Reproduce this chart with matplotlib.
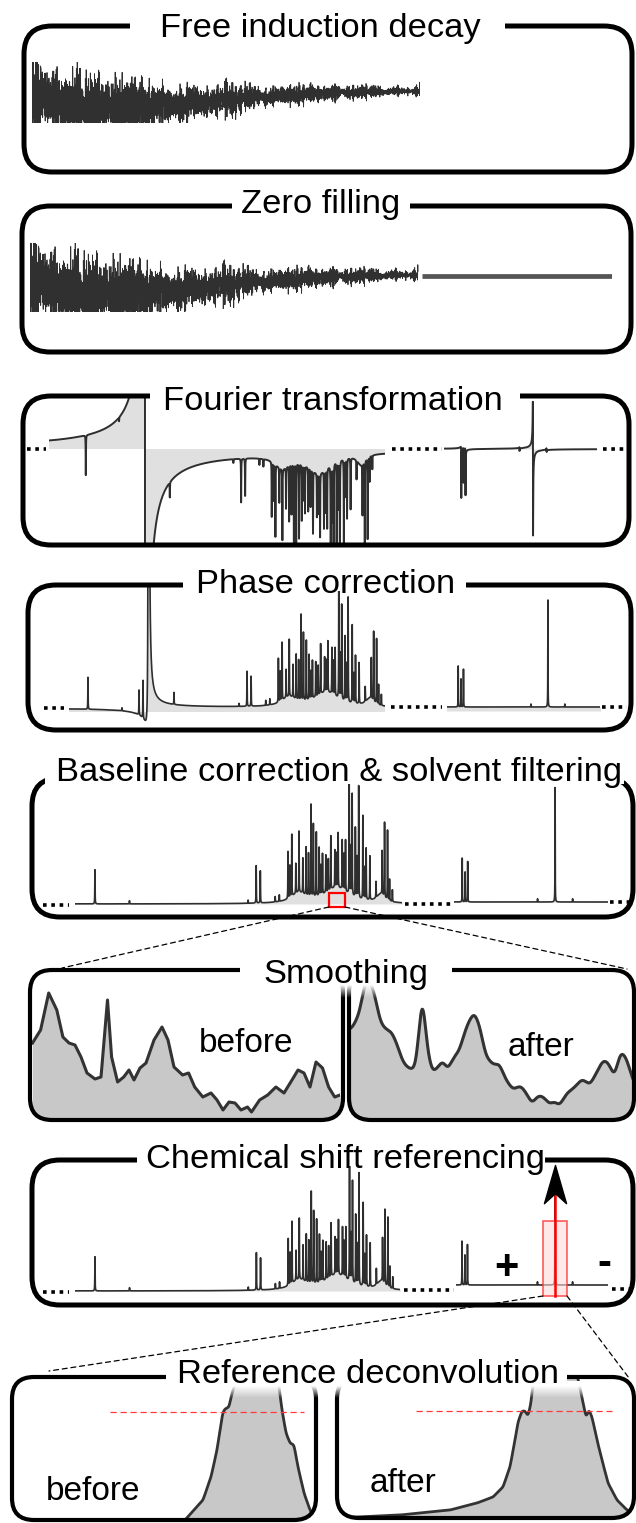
import numpy as np
import matplotlib
matplotlib.use("Agg")
import matplotlib.pyplot as plt
from matplotlib.patches import FancyBboxPatch, Rectangle, ConnectionPatch
from matplotlib.path import Path

plt.rcParams["font.family"] = ["Liberation Sans", "DejaVu Sans"]

W, H = 636, 1523

# ---------------- data ----------------
# 1H lines of the low-field block (ppm, height in a.u.)
PEAK_PPM = [5.338, 5.047, 4.902, 4.868, 4.603, 4.047, 3.979, 3.944,
            3.819, 3.784, 3.711, 3.679, 3.645, 3.618, 3.586, 3.559, 3.517, 3.497,
            3.472, 3.448, 3.420, 3.392, 3.350, 3.316, 3.288, 3.254, 3.226, 3.195,
            3.170, 3.143, 3.115, 3.080, 3.052, 3.021, 2.969, 2.917, 2.897, 2.872,
            2.831]
PEAK_HEIGHT = [32, 3, 25, 38, 12, 3, 35, 30,
               5, 6, 44, 58, 28, 57, 33, 45, 86, 68,
               60, 45, 38, 35, 50, 35, 51, 46, 48, 109,
               95, 65, 105, 78, 48, 41, 15, 41, 70, 65,
               11]
# smaller lines between the main ones
MINOR_PPM = [3.695, 3.538, 3.434, 3.371, 3.302, 3.240, 3.182, 3.129, 3.066, 2.855]
MINOR_HEIGHT = [30, 40, 28, 30, 32, 34, 45, 38, 30, 20]
LINE_FWHM = 0.0025

# unresolved background under the crowded region
BROAD_PPM = [3.62, 3.30, 2.93]
BROAD_HEIGHT = [9, 15, 8]
BROAD_FWHM = [0.15, 0.25, 0.08]

WATER_PPM = 4.82
WATER_HEIGHT = 3400
WATER_FWHM = 0.0034
SOLVENT_REGION = (4.55, 4.95)

# high-field block, reference compound at 0 ppm
SEG2_PPM = [1.378, 1.335, 1.297, 0.26, 0.0, -0.26]
SEG2_HEIGHT = [41, 28, 38, 3, 107, 3]
SEG2_FWHM = 0.0035
REF_PPM = 0.0
REF_WINDOW = 0.178

# phases in degrees
FT_PHASE_SOLUTE = 180
FT_PHASE_WATER = 265
FT_PHASE_SEG2 = 253
FT_PHASE_SEG2_SLOPE = -39.5
PC_PHASE_WATER = 7

# acquisition
CARRIER_PPM = 4.822
CYCLES_PER_PPM = 288
FID_POINTS = 12000
FID_GAIN = 34.0
WATER_FID_SCALE = 0.1
ZERO_FILL_LENGTH = 1.5

# zoomed window for smoothing (ppm limits) and its raw points
ZOOM_PPM = (3.366, 3.231)
SMOOTH_CHANNEL = [2.5, 10.6, 18.7, 26.8, 32.9, 39, 45, 51, 57, 65, 71, 77.5,
                  81.6, 87.6, 93.7, 99, 104, 110, 116, 124, 132, 138, 144,
                  152.6, 158.6, 164.7, 172.8, 181, 187, 193, 199, 205, 211,
                  217.5, 221.5, 229.6, 237.7, 245.9, 254, 262, 268, 274, 280,
                  286, 292.5, 298.6, 304.7, 310]
SMOOTH_BEFORE = [77, 90, 127, 110, 83, 77, 75, 63, 47, 41, 43, 120,
                 63, 38, 43, 50, 40, 52, 57, 80, 93, 80, 53,
                 45, 47, 33, 23, 27, 20, 10, 18, 17, 10,
                 13, 8, 20, 25, 33, 27, 40, 50, 47, 33,
                 58, 52, 33, 23, 25]
SMOOTH_SIGMA = 2.5

# reference line before / after deconvolution (offset, intensity)
REF_BEFORE_OFFSET = [-245, -100, -72, -54, -46, -40, -36, -34, -32, -28, -25,
                     -22, -17, 0, 17, 22, 25, 29, 33, 37, 41, 47, 53, 57, 63]
REF_BEFORE = [0, 0, 0, 20, 43, 70, 97, 108, 111, 113, 127,
              135, 180, 220, 180, 133, 110, 87, 77, 75, 53, 27, 10, 3, 0]
REF_AFTER_OFFSET = [-219, -156, -106, -79, -63, -53, -46, -41, -38, -34, -31,
                    -28, -25, -23, -11, 0, 11, 23, 27, 30, 33, 36, 41, 46,
                    52, 61, 71, 77, 84]
REF_AFTER = [2, 5, 10, 17, 23, 33, 53, 80, 98, 109, 109,
             104, 117, 137, 190, 220, 190, 137, 117, 103, 110, 103, 80, 60,
             37, 20, 10, 7, 5]
REF_LEVEL_BEFORE = (-147, 47, 108)
REF_LEVEL_AFTER = (-140, 56, 109)

# ---------------- helpers ----------------
LINE = "#2e2e2e"
LIGHT = "#e0e0e0"
MID = "#c8c8c8"

fig = plt.figure(figsize=(W / 100, H / 100), dpi=100)


def px_axes(x0, x1, y0, y1):
    ax = fig.add_axes([x0 / W, 1 - y1 / H, (x1 - x0) / W, (y1 - y0) / H])
    ax.set_axis_off()
    return ax


def lines(grid, ppm, height, fwhm, phase_deg):
    ppm = np.asarray(ppm, float)
    height = np.asarray(height, float)
    fwhm = np.broadcast_to(np.asarray(fwhm, float), ppm.shape)
    phase = np.deg2rad(np.broadcast_to(np.asarray(phase_deg, float), ppm.shape))
    out = np.zeros_like(grid)
    for c, h, w, p in zip(ppm, height, fwhm, phase):
        u = (c - grid) / (w / 2)
        out += h * (np.cos(p) + u * np.sin(p)) / (1 + u * u)
    return out


grid1 = np.linspace(5.8, 2.6, 20000)
grid2 = np.linspace(1.8, -1.3, 10000)
pk_ppm = np.array(PEAK_PPM + MINOR_PPM)
pk_h = np.array(PEAK_HEIGHT + MINOR_HEIGHT, float)
s2_ppm = np.array(SEG2_PPM)


def seg1_spectrum(kind):
    if kind == "ft":
        ph, wph, keep = FT_PHASE_SOLUTE, FT_PHASE_WATER, np.ones(len(pk_ppm), bool)
    else:
        ph, wph = 0, PC_PHASE_WATER
        keep = np.ones(len(pk_ppm), bool)
        if kind == "clean":
            keep = ~((pk_ppm >= SOLVENT_REGION[0]) & (pk_ppm <= SOLVENT_REGION[1]))
    s = lines(grid1, pk_ppm[keep], pk_h[keep], LINE_FWHM, ph)
    s += lines(grid1, BROAD_PPM, BROAD_HEIGHT, BROAD_FWHM, ph)
    if kind != "clean":
        s += lines(grid1, [WATER_PPM], [WATER_HEIGHT], WATER_FWHM, wph)
    return s


def seg2_spectrum(kind):
    if kind == "ft":
        ph = FT_PHASE_SEG2 + FT_PHASE_SEG2_SLOPE * s2_ppm
    else:
        ph = 0
    return lines(grid2, SEG2_PPM, SEG2_HEIGHT, SEG2_FWHM, ph)


# FID built from the same line list (broad background decays within the dead time)
t = np.linspace(0, 1, FID_POINTS)


def fid_part(ppm, h, fwhm, phase_deg, scale=1.0):
    f = (ppm - CARRIER_PPM) * CYCLES_PER_PPM
    T = 1 / (np.pi * fwhm * CYCLES_PER_PPM)
    return h * fwhm * scale * np.cos(2 * np.pi * f * t + np.deg2rad(phase_deg)) * np.exp(-t / T)


fid = np.zeros_like(t)
for p, h in zip(pk_ppm, pk_h):
    fid += fid_part(p, h, LINE_FWHM, FT_PHASE_SOLUTE)
for p, h in zip(SEG2_PPM, SEG2_HEIGHT):
    fid += fid_part(p, h, SEG2_FWHM, FT_PHASE_SEG2 + FT_PHASE_SEG2_SLOPE * p)
fid += fid_part(WATER_PPM, WATER_HEIGHT, WATER_FWHM, FT_PHASE_WATER, WATER_FID_SCALE)
fid *= FID_GAIN

# ---------------- FID panels ----------------
ax = px_axes(32, 420, 62, 123)
ax.set_xlim(0, 1)
ax.set_ylim(-31, 30)
ax.plot(t, fid, color="#303030", lw=0.6)

ax = px_axes(30, 612, 243, 312)
ax.set_xlim(0, ZERO_FILL_LENGTH)
ax.set_ylim(-36, 33)
ax.plot(t, fid * 1.15, color="#303030", lw=0.6)
t_zf = np.linspace(1.01, ZERO_FILL_LENGTH, 200)
ax.plot(t_zf, np.zeros_like(t_zf), color="#555555", lw=3.4, solid_capstyle="butt")

# ---------------- spectrum panels ----------------
panels = [
    dict(kind="ft", seg1=(49, 385, 5.66, 2.72), seg2=(444, 597, 1.71, -1.23),
         top=396, bottom=545, base1=449, base2=449, gain=1.25, lw=1.4, floor=0),
    dict(kind="pc", seg1=(69, 385, 5.5, 2.8), seg2=(447, 600, 1.55, -0.8),
         top=585, bottom=730, base1=708, base2=707, gain=1.0, lw=1.2, floor=-4),
    dict(kind="clean", seg1=(75, 402, 5.506, 2.75), seg2=(454, 608, 1.50, -0.785),
         top=778, bottom=917, base1=904, base2=902, gain=1.07, lw=1.2, floor=0),
    dict(kind="clean", seg1=(75, 400, 5.506, 2.77), seg2=(456, 608, 1.467, -0.785),
         top=1160, bottom=1305, base1=1291, base2=1285, gain=1.07, lw=1.2, floor=0),
]
seg_axes = []
for pn in panels:
    pair = []
    for key, grid, spec, base in (("seg1", grid1, seg1_spectrum, pn["base1"]),
                                  ("seg2", grid2, seg2_spectrum, pn["base2"])):
        x0, x1, pl, pr = pn[key]
        a = px_axes(x0, x1, pn["top"], pn["bottom"])
        a.set_xlim(pl, pr)
        a.set_ylim(-(pn["bottom"] - base), base - pn["top"])
        y = spec(pn["kind"]) * pn["gain"]
        a.fill_between(grid, y, pn["floor"], color=LIGHT, lw=0)
        a.plot(grid, y, color=LINE, lw=pn["lw"])
        pair.append(a)
    seg_axes.append(pair)

# ---------------- overlay ----------------
ov = fig.add_axes([0, 0, 1, 1])
ov.set_axis_off()
ov.set_zorder(10)


def box(x0, y0, x1, y1, r=28, lw=3.6):
    p = FancyBboxPatch((x0, y0), x1 - x0, y1 - y0,
                       boxstyle=f"round,pad=0,rounding_size={r}",
                       fill=False, ec="black", lw=lw, zorder=2)
    ov.add_patch(p)
    return p


for b in [(24, 26, 632, 172), (22, 206, 631, 352), (23, 396, 629, 545),
          (28, 585, 631, 730), (32, 778, 633, 917), (32, 1160, 633, 1305)]:
    box(*b)
boxL6 = box(30, 970, 343, 1120, r=22, lw=3.0)
boxR6 = box(349, 970, 634, 1120, r=22, lw=3.0)
boxL8 = box(12, 1377, 316, 1520, r=22, lw=3.0)
boxR8 = box(337, 1377, 634, 1518, r=22, lw=3.0)

# title gaps in the top borders
for x0, x1, y in [(130, 505, 26), (232, 410, 206), (150, 520, 396), (183, 466, 585),
                  (45, 624, 778), (240, 452, 970), (137, 545, 1160), (166, 567, 1377)]:
    ov.add_patch(Rectangle((x0, y - 6), x1 - x0, 12, fc="white", ec="none", zorder=3))


def fade(x0, x1, y_top, y_solid, y_end):
    ys = np.linspace(y_top, y_end, 80)
    img = np.ones((80, 1, 4))
    img[:, 0, 3] = np.clip((y_end - ys) / (y_end - y_solid), 0, 1)
    ov.imshow(img, extent=(x0, x1, y_end, y_top), aspect="auto",
              interpolation="bilinear", zorder=3)


titles = [("Free induction decay", 320, 37), ("Zero filling", 321, 213),
          ("Fourier transformation", 333, 410), ("Phase correction", 326, 593),
          ("Baseline correction & solvent filtering", 339, 781),
          ("Smoothing", 346, 983), ("Chemical shift referencing", 346, 1168),
          ("Reference deconvolution", 368, 1383)]
for txt, x, y in titles:
    ov.text(x, y, txt, fontsize=24.8, ha="center", va="baseline", zorder=5)

# dotted gaps between spectral blocks
for x0, x1, y in [(27, 46, 449), (392, 442, 449), (603, 627, 449),
                  (44, 64, 708), (391, 442, 707), (602, 627, 707),
                  (43, 69, 905), (405, 452, 904), (610, 634, 902),
                  (43, 69, 1292), (404, 454, 1290), (612, 636, 1289)]:
    ov.plot([x0, x1], [y, y], color="black", lw=2.6, ls=(0, (1, 1.3)), zorder=4)

# ---------------- smoothing ----------------
ch = np.array(SMOOTH_CHANNEL, float)
before = np.array(SMOOTH_BEFORE, float)
fine = np.arange(0, 310.25, 0.25)
b_fine = np.interp(fine, ch, before)
k = np.arange(-40, 41) * 0.25
kern = np.exp(-0.5 * (k / SMOOTH_SIGMA) ** 2)
kern /= kern.sum()
padded = np.concatenate([np.full(40, b_fine[0]), b_fine, np.full(40, b_fine[-1])])
after = np.convolve(padded, kern, mode="same")[40:-40]

a6l = px_axes(30, 340, 970, 1120)
a6l.set_xlim(0, 310)
a6l.set_ylim(0, 150)
f = a6l.fill_between(ch, before, 0, color=MID, lw=0)
f.set_clip_path(boxL6)
ln, = a6l.plot(ch, before, color="#333333", lw=2.2)
ln.set_clip_path(boxL6)

a6r = px_axes(349, 643, 970, 1120)
a6r.set_xlim(0, 310)
a6r.set_ylim(-4, 130)
f = a6r.fill_between(fine, after, -4, color=MID, lw=0)
f.set_clip_path(boxR6)
ln, = a6r.plot(fine, after, color="#333333", lw=2.2)
ln.set_clip_path(boxR6)

ov.text(246, 1043, "before", fontsize=24, ha="center", va="center", zorder=5)
ov.text(541, 1047, "after", fontsize=24, ha="center", va="center", zorder=5)
fade(240, 452, 974, 985, 998)

# ---------------- reference deconvolution ----------------
for x0, x1, off, val, xl, lvl, bx in [
        (12, 316, REF_BEFORE_OFFSET, REF_BEFORE, (-245, 59), REF_LEVEL_BEFORE, boxL8),
        (337, 634, REF_AFTER_OFFSET, REF_AFTER, (-219, 78), REF_LEVEL_AFTER, boxR8)]:
    a = px_axes(x0, x1, 1377, 1520)
    a.set_xlim(*xl)
    a.set_ylim(0, 143)
    xf = np.arange(xl[0], xl[1] + 0.25, 0.25)
    yf = np.interp(xf, off, val)
    kk = np.arange(-8, 9) * 0.25
    kr = np.exp(-0.5 * (kk / 0.8) ** 2)
    kr /= kr.sum()
    yf = np.convolve(np.concatenate([np.full(8, yf[0]), yf, np.full(8, yf[-1])]), kr, "same")[8:-8]
    f = a.fill_between(xf, yf, 0, color=MID, lw=0)
    f.set_clip_path(bx)
    ln, = a.plot(xf, yf, color="#333333", lw=2.0)
    ln.set_clip_path(bx)
    a.plot([lvl[0], lvl[1]], [lvl[2], lvl[2]], color="#ff3b3b", lw=0.9, ls=(0, (5, 3)))

ov.text(93, 1492, "before", fontsize=24, ha="center", va="center", zorder=5)
ov.text(403, 1484, "after", fontsize=24, ha="center", va="center", zorder=5)
fade(166, 592, 1381, 1386, 1398)

# ---------------- zoom markers and connectors ----------------
p5 = seg_axes[2][0]
p5.add_patch(Rectangle((ZOOM_PPM[1], -3), ZOOM_PPM[0] - ZOOM_PPM[1], 14, fill=False,
                       ec="red", lw=1.6, clip_on=False, zorder=5))
for xa, xb in [((ZOOM_PPM[0], -3), (62, 968)), ((ZOOM_PPM[1], -3), (627, 969))]:
    con = ConnectionPatch(xyA=xa, coordsA=p5.transData, xyB=xb, coordsB=ov.transData,
                          color="black", lw=0.9, ls=(0, (4, 3)))
    fig.add_artist(con)

p7 = seg_axes[3][1]
p7.add_patch(Rectangle((REF_PPM - REF_WINDOW, -11), 2 * REF_WINDOW, 75, fc=(1, 0.85, 0.85, 0.6),
                       ec=(1, 0.2, 0.2, 0.8), lw=1.2, clip_on=False, zorder=5))
p7.plot([REF_PPM, REF_PPM], [-11, 92], color="red", lw=1.8, clip_on=False, zorder=6)
head = Path([(0, 0), (0.55, -1.9), (0, -1.4), (-0.55, -1.9), (0, 0)],
            [Path.MOVETO, Path.LINETO, Path.LINETO, Path.LINETO, Path.CLOSEPOLY])
p7.plot([REF_PPM], [120], marker=head, markersize=55, color="black", clip_on=False, zorder=7)
for xa, xb in [((REF_PPM + REF_WINDOW, -11), (49, 1371)), ((REF_PPM - REF_WINDOW, -11), (629, 1378))]:
    con = ConnectionPatch(xyA=xa, coordsA=p7.transData, xyB=xb, coordsB=ov.transData,
                          color="black", lw=0.9, ls=(0, (4, 3)))
    fig.add_artist(con)

ov.text(506, 1268, "+", fontsize=30, fontweight="bold", ha="center", va="center", zorder=5)
ov.text(604, 1264, "-", fontsize=30, fontweight="bold", ha="center", va="center", zorder=5)

ov.set_xlim(0, W)
ov.set_ylim(H, 0)

fig.savefig("out.png", dpi=100)
